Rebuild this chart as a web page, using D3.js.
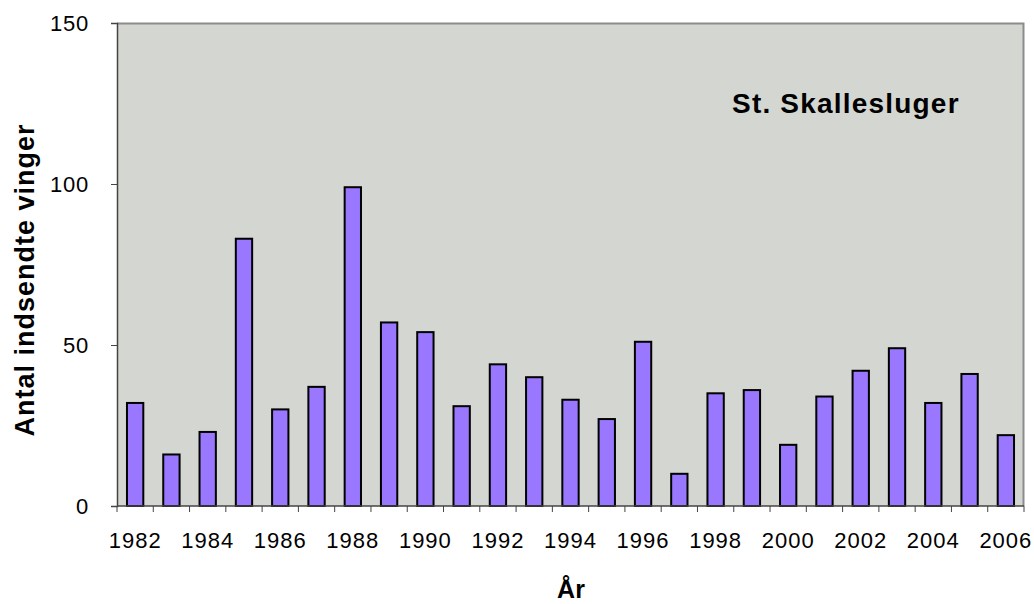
<!doctype html>
<html>
  <head>
    <meta charset="utf-8">
    <title>St. Skallesluger</title>
    <script src="https://cdnjs.cloudflare.com/ajax/libs/d3/7.8.5/d3.min.js"></script>
    <style>
      body { margin: 0; background: #fff; }
      text { font-family: "Liberation Sans", Arial, sans-serif; fill: #000; }
    </style>
  </head>
  <body>
    <div id="chart"></div>
    <script>
      // data
      const years = d3.range(1982, 2007).map(String);
      const counts = [32, 16, 23, 83, 30, 37, 99, 57, 54, 31, 44, 40, 33, 27, 51,
                      10, 35, 36, 19, 34, 42, 49, 32, 41, 22];
      const yTicks = [0, 50, 100, 150];
      const xLabels = years.filter((d, i) => i % 2 === 0);

      const width = 1034, height = 604;
      const margin = {top: 23, right: 10, bottom: 98, left: 117};
      const plotW = 1024 - margin.left, plotH = 506 - margin.top;

      const svg = d3.select('#chart').append('svg')
        .attr('width', width)
        .attr('height', height);

      const g = svg.append('g')
        .attr('transform', `translate(${margin.left},${margin.top})`);

      const x = d3.scaleBand()
        .domain(years)
        .range([0, plotW])
        .paddingInner(0.55)
        .paddingOuter(0.275);

      const y = d3.scaleLinear()
        .domain([0, 150])
        .range([plotH, 0]);

      // plot background
      g.append('rect')
        .attr('width', plotW)
        .attr('height', plotH)
        .attr('fill', '#d4d6d1');

      // top and right frame
      g.append('path')
        .attr('d', `M0,0.5H${plotW - 0.5}V${plotH}`)
        .attr('fill', 'none')
        .attr('stroke', '#8c8c8c')
        .attr('stroke-width', 2);

      // bars
      g.selectAll('rect.bar')
        .data(counts)
        .join('rect')
        .attr('class', 'bar')
        .attr('x', (d, i) => x(years[i]))
        .attr('y', d => y(d))
        .attr('width', x.bandwidth())
        .attr('height', d => y(0) - y(d))
        .attr('fill', '#9977ff')
        .attr('stroke', '#000')
        .attr('stroke-width', 2);

      // y axis
      const yAxis = g.append('g')
        .call(d3.axisLeft(y).tickValues(yTicks).tickSize(6).tickPadding(22));
      yAxis.select('.domain').attr('stroke', '#444').attr('stroke-width', 1.5);
      yAxis.selectAll('line').attr('stroke', '#444');
      yAxis.selectAll('text')
        .style('font-size', '22px')
        .style('letter-spacing', '0.8px')
        .attr('fill', '#000');

      // x axis: ticks on band boundaries, labels every second year
      const xb = g.append('g').attr('transform', `translate(0,${plotH})`);
      xb.append('line')
        .attr('x1', 0).attr('x2', plotW)
        .attr('stroke', '#444').attr('stroke-width', 1.5);
      const step = x.step();
      xb.selectAll('line.tick')
        .data(d3.range(years.length + 1))
        .join('line')
        .attr('class', 'tick')
        .attr('x1', i => i * step).attr('x2', i => i * step)
        .attr('y1', 0).attr('y2', 6)
        .attr('stroke', '#444');
      xb.selectAll('text')
        .data(xLabels)
        .join('text')
        .attr('x', d => x(d) + x.bandwidth() / 2)
        .attr('y', 42)
        .attr('text-anchor', 'middle')
        .style('font-size', '22px')
        .style('letter-spacing', '1px')
        .text(d => d);

      // titles
      svg.append('text')
        .attr('transform', 'translate(34,280) rotate(-90)')
        .attr('text-anchor', 'middle')
        .style('font-size', '27px')
        .style('font-weight', 'bold')
        .style('letter-spacing', '1px')
        .text('Antal indsendte vinger');

      svg.append('text')
        .attr('x', 571)
        .attr('y', 598)
        .attr('text-anchor', 'middle')
        .style('font-size', '25px')
        .style('font-weight', 'bold')
        .text('År');

      svg.append('text')
        .attr('x', 732)
        .attr('y', 113)
        .style('font-size', '28px')
        .style('font-weight', 'bold')
        .style('letter-spacing', '1.2px')
        .text('St. Skallesluger');
    </script>
  </body>
</html>
